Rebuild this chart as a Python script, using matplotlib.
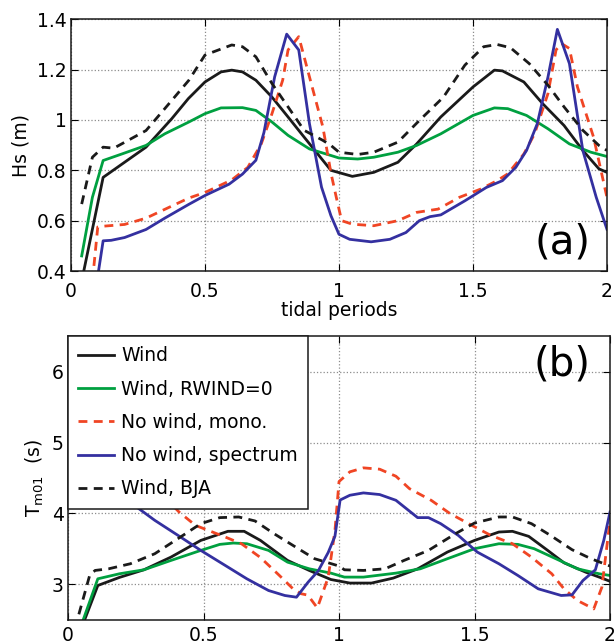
import matplotlib
matplotlib.use('Agg')
import matplotlib.pyplot as plt

# --- (a) Hs (m) -----------------------------------------------------------
hs_wind_x = [0.04, 0.12, 0.28, 0.376, 0.438, 0.50, 0.56, 0.60, 0.64, 0.69, 0.75, 0.81, 0.87, 0.97,
             1.05, 1.13, 1.22, 1.29, 1.38, 1.50, 1.58, 1.61, 1.69, 1.76, 1.84, 1.91, 1.97, 2.00]
hs_wind = [0.36, 0.772, 0.892, 1.005, 1.085, 1.151, 1.191, 1.198, 1.191, 1.158, 1.091, 1.012, 0.932, 0.80,
           0.776, 0.792, 0.832, 0.905, 1.012, 1.131, 1.198, 1.195, 1.151, 1.065, 0.978, 0.879, 0.806, 0.792]

hs_rwind_x = [0.04, 0.08, 0.12, 0.19, 0.28, 0.35, 0.44, 0.50, 0.56, 0.64, 0.69, 0.75, 0.81, 0.89, 0.97,
              1.00, 1.07, 1.13, 1.22, 1.29, 1.38, 1.50, 1.58, 1.63, 1.70, 1.78, 1.86, 1.94, 2.00]
hs_rwind = [0.46, 0.693, 0.839, 0.865, 0.899, 0.945, 0.992, 1.025, 1.048, 1.049, 1.038, 0.992, 0.939, 0.885, 0.859,
            0.849, 0.845, 0.852, 0.872, 0.899, 0.945, 1.018, 1.048, 1.045, 1.018, 0.965, 0.905, 0.872, 0.855]

hs_mono_x = [0.08, 0.10, 0.12, 0.20, 0.28, 0.35, 0.44, 0.50, 0.60, 0.66, 0.71, 0.75, 0.79, 0.81, 0.85, 0.89,
             0.94, 0.97, 0.99, 1.01, 1.05, 1.13, 1.22, 1.29, 1.37, 1.45, 1.53, 1.59, 1.63, 1.69, 1.73,
             1.78, 1.81, 1.83, 1.86, 1.89, 1.95, 2.00]
hs_mono = [0.36, 0.575, 0.578, 0.585, 0.61, 0.645, 0.69, 0.712, 0.762, 0.812, 0.905, 1.025, 1.158, 1.278, 1.331, 1.171,
           0.972, 0.79, 0.693, 0.60, 0.586, 0.58, 0.60, 0.633, 0.646, 0.693, 0.726, 0.759, 0.786, 0.865, 0.945,
           1.105, 1.278, 1.304, 1.284, 1.131, 0.932, 0.693]

hs_spec_x = [0.10, 0.12, 0.15, 0.20, 0.28, 0.35, 0.44, 0.50, 0.59, 0.64, 0.69, 0.72, 0.76, 0.805, 0.85, 0.89,
             0.935, 0.97, 1.00, 1.04, 1.12, 1.19, 1.25, 1.30, 1.34, 1.38, 1.47, 1.55, 1.61, 1.66, 1.70,
             1.74, 1.78, 1.815, 1.86, 1.91, 1.96, 2.00]
hs_spec = [0.38, 0.52, 0.522, 0.533, 0.565, 0.61, 0.665, 0.70, 0.745, 0.785, 0.84, 0.95, 1.171, 1.341, 1.278, 0.985,
           0.733, 0.62, 0.546, 0.526, 0.516, 0.526, 0.553, 0.60, 0.616, 0.623, 0.679, 0.732, 0.759, 0.812, 0.879,
           0.985, 1.171, 1.36, 1.224, 0.879, 0.693, 0.566]

hs_bja_x = [0.04, 0.08, 0.12, 0.16, 0.28, 0.35, 0.44, 0.50, 0.60, 0.64, 0.69, 0.75, 0.81, 0.87, 0.94, 0.97,
            1.00, 1.07, 1.13, 1.22, 1.30, 1.39, 1.47, 1.54, 1.59, 1.64, 1.71, 1.78, 1.84, 1.91, 1.97, 2.00]
hs_bja = [0.666, 0.852, 0.892, 0.888, 0.958, 1.045, 1.158, 1.258, 1.298, 1.291, 1.251, 1.145, 1.052, 0.959, 0.919, 0.899,
          0.872, 0.863, 0.872, 0.912, 0.998, 1.091, 1.218, 1.291, 1.30, 1.287, 1.224, 1.138, 1.052, 0.959, 0.899, 0.879]

# --- (b) Tm01 (s) ---------------------------------------------------------
tm_wind_x = [0.04, 0.11, 0.19, 0.28, 0.38, 0.49, 0.59, 0.65, 0.71, 0.81, 0.89, 0.97, 1.04, 1.12, 1.20,
             1.29, 1.40, 1.50, 1.59, 1.64, 1.70, 1.77, 1.83, 1.91, 1.96, 2.00]
tm_wind = [2.29, 2.986, 3.10, 3.207, 3.386, 3.621, 3.749, 3.749, 3.621, 3.339, 3.198, 3.07, 3.02, 3.02, 3.09,
           3.22, 3.457, 3.621, 3.739, 3.749, 3.678, 3.48, 3.306, 3.174, 3.104, 3.045]

tm_rwind_x = [0.04, 0.11, 0.19, 0.28, 0.38, 0.49, 0.56, 0.61, 0.66, 0.74, 0.81, 0.89, 0.97, 1.02, 1.09,
              1.21, 1.30, 1.40, 1.50, 1.59, 1.66, 1.72, 1.80, 1.88, 1.96, 2.00]
tm_rwind = [2.33, 3.08, 3.151, 3.207, 3.339, 3.48, 3.565, 3.584, 3.574, 3.48, 3.315, 3.221, 3.16, 3.104, 3.104,
            3.16, 3.221, 3.363, 3.504, 3.574, 3.565, 3.504, 3.363, 3.221, 3.151, 3.127]

tm_mono_x = [0.04, 0.08, 0.12, 0.20, 0.30, 0.41, 0.47, 0.58, 0.64, 0.71, 0.78, 0.83, 0.86, 0.885, 0.92, 0.96,
             0.985, 1.00, 1.04, 1.09, 1.15, 1.21, 1.26, 1.34, 1.41, 1.49, 1.56, 1.64, 1.71, 1.785, 1.83,
             1.88, 1.94, 1.97, 2.00]
tm_mono = [6.9, 5.0, 4.75, 4.65, 4.45, 4.02, 3.833, 3.669, 3.574, 3.38, 3.127, 2.94, 2.87, 2.85, 2.67, 3.10,
           3.76, 4.45, 4.587, 4.643, 4.624, 4.525, 4.35, 4.186, 3.998, 3.833, 3.692, 3.574, 3.386, 3.151, 2.939,
           2.774, 2.656, 2.962, 3.9]

tm_spec_x = [0.10, 0.12, 0.20, 0.25, 0.32, 0.415, 0.49, 0.59, 0.66, 0.74, 0.80, 0.843, 0.886, 0.923, 0.96,
             0.985, 1.004, 1.04, 1.09, 1.15, 1.21, 1.29, 1.33, 1.375, 1.44, 1.51, 1.59, 1.66, 1.735, 1.82,
             1.86, 1.90, 1.946, 1.977, 2.00]
tm_spec = [5.6, 5.0, 4.4, 4.1, 3.904, 3.669, 3.48, 3.245, 3.08, 2.915, 2.845, 2.821, 3.033, 3.19, 3.45,
           3.68, 4.19, 4.257, 4.29, 4.267, 4.186, 3.942, 3.942, 3.857, 3.692, 3.457, 3.292, 3.127, 2.939, 2.845,
           2.854, 3.056, 3.207, 3.621, 4.02]

tm_bja_x = [0.04, 0.08, 0.10, 0.15, 0.23, 0.32, 0.415, 0.49, 0.56, 0.63, 0.69, 0.76, 0.84, 0.91, 1.00, 1.02,
            1.09, 1.17, 1.24, 1.33, 1.43, 1.50, 1.59, 1.64, 1.71, 1.78, 1.86, 1.93, 2.00]
tm_bja = [2.58, 3.13, 3.198, 3.221, 3.292, 3.433, 3.669, 3.857, 3.942, 3.951, 3.895, 3.716, 3.527, 3.363, 3.26, 3.207,
          3.198, 3.221, 3.339, 3.48, 3.716, 3.866, 3.951, 3.951, 3.857, 3.692, 3.49, 3.363, 3.26]

labels = ['Wind', 'Wind, RWIND=0', 'No wind, mono.', 'No wind, spectrum', 'Wind, BJA']
colors = ['#1a1a1a', '#00a040', '#f04524', '#3430a0', '#1a1a1a']
styles = ['-', '-', '--', '-', '--']

plt.rcParams['font.family'] = ['DejaVu Sans']
plt.rcParams['font.size'] = 13.5

fig = plt.figure(figsize=(6.15, 6.43), dpi=100)
ax1 = fig.add_axes([0.1154, 0.5785, 0.8715, 0.3915])
ax2 = fig.add_axes([0.1106, 0.0358, 0.8813, 0.4416])


def draw(ax, series, xpad):
    for (x, y), lab, c, ls in zip(series, labels, colors, styles):
        ln, = ax.plot(x, y, color=c, lw=2.0, ls=ls, label=lab)
        if ls == '--':
            ln.set_dashes((3.2, 2.3))
    ax.set_xlim(0, 2)
    ax.set_xticks([0, 0.5, 1, 1.5, 2])
    ax.set_xticklabels(['0', '0.5', '1', '1.5', '2'])
    ax.grid(True, ls=':', color='0.55', lw=0.9)
    ax.tick_params(direction='in', length=5, top=True, right=True, width=0.8)
    ax.tick_params(axis='x', pad=xpad)
    ax.tick_params(axis='y', pad=3)
    for s in ax.spines.values():
        s.set_linewidth(1.1)
        s.set_color('#1a1a1a')


draw(ax1, [(hs_wind_x, hs_wind), (hs_rwind_x, hs_rwind), (hs_mono_x, hs_mono),
           (hs_spec_x, hs_spec), (hs_bja_x, hs_bja)], 8)
ax1.set_ylim(0.4, 1.4)
ax1.set_yticks([0.4, 0.6, 0.8, 1.0, 1.2, 1.4])
ax1.set_yticklabels(['0.4', '0.6', '0.8', '1', '1.2', '1.4'])
ax1.set_xlabel('tidal periods', labelpad=0)
ax1.set_ylabel('Hs (m)', labelpad=5)
ax1.text(0.918, 0.115, '(a)', transform=ax1.transAxes, ha='center', va='center', fontsize=29)

draw(ax2, [(tm_wind_x, tm_wind), (tm_rwind_x, tm_rwind), (tm_mono_x, tm_mono),
           (tm_spec_x, tm_spec), (tm_bja_x, tm_bja)], 4)
ax2.set_ylim(2.5, 6.5)
ax2.set_yticks([3, 4, 5, 6])
ax2.set_ylabel(r'T$_{\rm m01}$  (s)', labelpad=4)
ax2.text(0.911, 0.898, '(b)', transform=ax2.transAxes, ha='center', va='center', fontsize=29)

leg = ax2.legend(loc='upper left', bbox_to_anchor=(0, 1), borderaxespad=0, fontsize=13.5,
                 fancybox=False, framealpha=1, edgecolor='#1a1a1a', borderpad=0.55,
                 labelspacing=0.76, handlelength=1.9, handletextpad=0.37)
leg.get_frame().set_linewidth(1.1)

fig.savefig('out.png', dpi=100)
